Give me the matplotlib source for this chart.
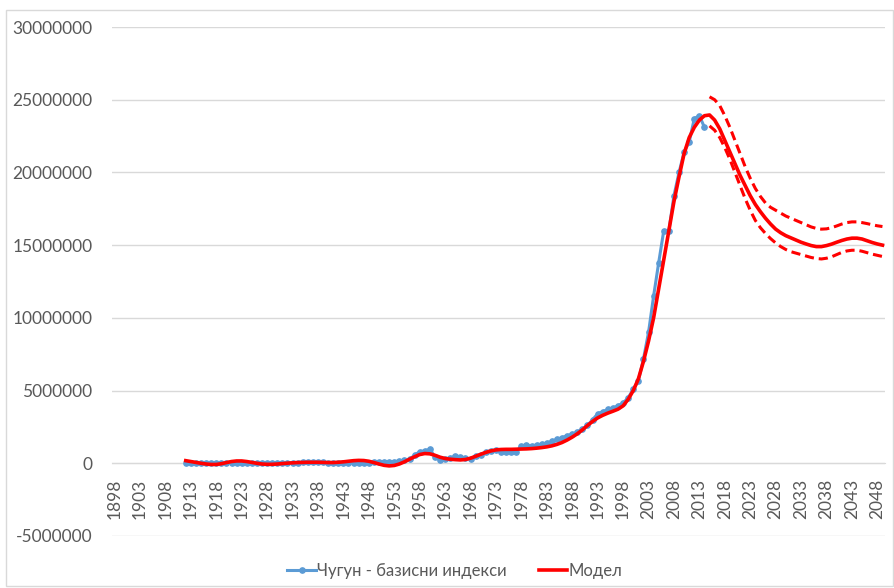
import matplotlib
matplotlib.use("Agg")
import matplotlib.pyplot as plt
import numpy as np
from matplotlib.patches import Rectangle

# ---- data ----
years = list(range(1898, 2050))

obs_years = list(range(1912, 2015))
obs_values = [
    # 1912-1921
    50000, 30000, 20000, 20000, 10000, 10000, 15000, 20000, 30000, 40000,
    # 1922-1931
    50000, 50000, 40000, 30000, 20000, 15000, 10000, 10000, 15000, 20000,
    # 1932-1941
    30000, 40000, 50000, 60000, 60000, 70000, 70000, 60000, 50000, 50000,
    # 1942-1951
    40000, 40000, 30000, 30000, 30000, 40000, 50000, 60000, 80000, 90000,
    # 1952-1961
    100000, 120000, 150000, 200000, 280000, 550000, 800000, 850000, 960000, 450000,
    # 1962-1971
    250000, 300000, 350000, 500000, 450000, 350000, 300000, 500000, 600000, 750000,
    # 1972-1981
    850000, 900000, 800000, 750000, 750000, 800000, 1200000, 1250000, 1200000, 1250000,
    # 1982-1991
    1300000, 1400000, 1500000, 1650000, 1750000, 1900000, 2000000, 2150000, 2350000, 2600000,
    # 1992-2001
    3000000, 3400000, 3550000, 3700000, 3800000, 3950000, 4150000, 4500000, 5100000, 5670000,
    # 2002-2011
    7160000, 9000000, 11500000, 13800000, 16000000, 16000000, 18400000, 20000000, 21400000, 22100000,
    # 2012-2014
    23700000, 23900000, 23100000,
]

model_years = list(range(1912, 2050))
model_values = [
    # 1912-1921
    180000, 120000, 60000, 0, -50000, -80000, -80000, -30000, 50000, 120000,
    # 1922-1931
    160000, 160000, 120000, 60000, 0, -50000, -70000, -70000, -50000, -20000,
    # 1932-1941
    10000, 30000, 50000, 60000, 70000, 70000, 70000, 60000, 50000, 50000,
    # 1942-1951
    70000, 100000, 140000, 180000, 200000, 190000, 140000, 50000, -50000, -140000,
    # 1952-1961
    -180000, -150000, -50000, 100000, 280000, 450000, 600000, 670000, 650000, 550000,
    # 1962-1971
    420000, 330000, 280000, 250000, 230000, 260000, 350000, 480000, 620000, 750000,
    # 1972-1981
    850000, 920000, 950000, 960000, 960000, 970000, 980000, 990000, 1010000, 1040000,
    # 1982-1991
    1080000, 1130000, 1200000, 1300000, 1430000, 1600000, 1800000, 2030000, 2300000, 2600000,
    # 1992-2001
    2880000, 3120000, 3300000, 3450000, 3580000, 3720000, 3950000, 4400000, 5000000, 5800000,
    # 2002-2011
    7000000, 8400000, 10000000, 12000000, 14000000, 16000000, 18000000, 19700000, 21300000, 22400000,
    # 2012-2021
    23100000, 23600000, 23900000, 23950000, 23600000, 23000000, 22200000, 21400000, 20600000, 19800000,
    # 2022-2031
    19100000, 18400000, 17800000, 17300000, 16850000, 16450000, 16100000, 15850000, 15650000, 15500000,
    # 2032-2041
    15350000, 15200000, 15080000, 14970000, 14900000, 14900000, 14970000, 15070000, 15200000, 15320000,
    # 2042-2049
    15420000, 15480000, 15480000, 15420000, 15300000, 15180000, 15080000, 15000000,
]

band_years = list(range(2015, 2050))
upper_values = [
    25200000, 25000000, 24600000, 23900000, 23100000, 22200000, 21300000, 20400000, 19600000, 18900000,
    18350000, 17900000, 17600000, 17400000, 17200000, 17000000, 16850000, 16700000, 16550000, 16400000,
    16250000, 16150000, 16100000, 16120000, 16200000, 16320000, 16450000, 16550000, 16600000, 16600000,
    16550000, 16480000, 16400000, 16330000, 16280000,
]
lower_values = [
    23200000, 22900000, 22400000, 21700000, 20900000, 20000000, 19100000, 18200000, 17400000, 16700000,
    16200000, 15800000, 15450000, 15150000, 14900000, 14700000, 14550000, 14450000, 14350000, 14250000,
    14150000, 14080000, 14050000, 14100000, 14200000, 14350000, 14500000, 14600000, 14650000, 14650000,
    14580000, 14480000, 14380000, 14300000, 14220000,
]

label_obs = "Чугун - базисни индекси"
label_model = "Модел"

# ---- plot ----
plt.rcParams['font.family'] = ['Lato', 'DejaVu Sans']
W, H = 895, 588
fig = plt.figure(figsize=(W / 100, H / 100), dpi=100)
ax = fig.add_axes([112 / W, 1 - 536 / H, (885 - 112) / W, (536 - 27) / H])

idx = {y: i for i, y in enumerate(years)}
xo = [idx[y] for y in obs_years]
xm = [idx[y] for y in model_years]
xb = [idx[y] for y in band_years]

blue = "#5B9BD5"
red = "#FF0000"
grid = "#D9D9D9"
txt = "#595959"

ax.plot(xo, obs_values, color=blue, lw=2.2, marker="o", ms=3.8, label=label_obs, zorder=3)
ax.plot(xm, model_values, color=red, lw=2.6, label=label_model, zorder=4)
ax.plot(xb, upper_values, color=red, lw=2.2, ls=(0, (3, 1.6)), zorder=4)
ax.plot(xb, lower_values, color=red, lw=2.2, ls=(0, (3, 1.6)), zorder=4)

ax.set_xlim(-0.5, len(years) - 0.5)
ax.set_ylim(-5000000, 30000000)
yt = np.arange(-5000000, 30000001, 5000000)
ax.set_yticks(yt)
ax.set_yticklabels([f"{int(v)}" for v in yt])
ax.yaxis.grid(True, color=grid, lw=1)
ax.set_axisbelow(True)

xt = list(range(0, len(years), 5))
ax.set_xticks(xt)
ax.set_xticklabels([str(years[i]) for i in xt])

for s in ["top", "right", "left"]:
    ax.spines[s].set_visible(False)
ax.spines["bottom"].set_position(("data", 0))
ax.spines["bottom"].set_color(grid)
ax.spines["bottom"].set_zorder(1)

ax.tick_params(axis="both", length=0, colors=txt, labelsize=12.5)
ax.tick_params(axis="y", pad=14)
ax.tick_params(axis="x", pad=11, labelrotation=90)

fig.legend(loc="center", bbox_to_anchor=(455 / W, 1 - 571 / H), ncol=2, frameon=False,
           fontsize=12, handlelength=1.7, handletextpad=0.1, columnspacing=1.9,
           labelcolor=txt)

fig.patches.append(Rectangle((6 / W, 1 - 586 / H), (893 - 6) / W, (586 - 10) / H,
                             transform=fig.transFigure, fill=False, edgecolor="#D9D9D9", lw=1))

fig.savefig("out.png", dpi=100)
